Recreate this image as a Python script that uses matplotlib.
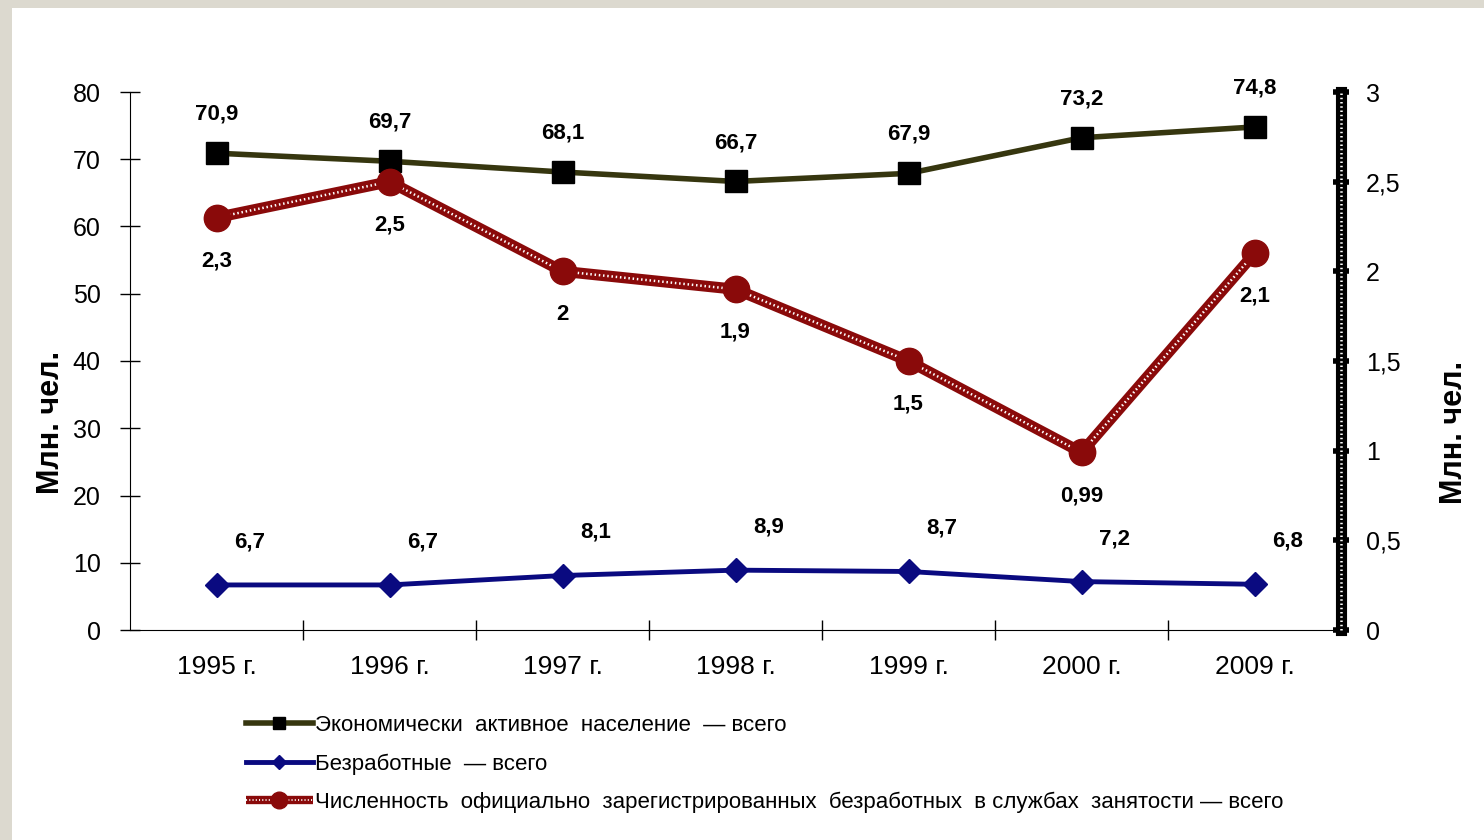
import matplotlib.pyplot as plt
import numpy as np
from matplotlib.lines import Line2D
from matplotlib.patches import Rectangle
from matplotlib.ticker import FuncFormatter, FixedLocator

plt.rcParams['font.family'] = ['Liberation Sans', 'DejaVu Sans']

years = ['1995 г.', '1996 г.', '1997 г.', '1998 г.', '1999 г.', '2000 г.', '2009 г.']
active = [70.9, 69.7, 68.1, 66.7, 67.9, 73.2, 74.8]
unemployed = [6.7, 6.7, 8.1, 8.9, 8.7, 7.2, 6.8]
registered = [2.3, 2.5, 2.0, 1.9, 1.5, 0.99, 2.1]

names = ['Экономически  активное  население  — всего',
         'Безработные  — всего',
         'Численность  официально  зарегистрированных  безработных  в службах  занятости — всего']

c_green = '#36360f'
c_blue = '#0a0a80'
c_red = '#8a0a0a'


def fmt(v):
    return f'{v:g}'.replace('.', ',')


fig = plt.figure(figsize=(14.84, 8.4), dpi=100)
fig.patch.set_facecolor('#dcd9cf')
fig.patches.append(Rectangle((12 / 1484, 0), 1, 1 - 8 / 840, transform=fig.transFigure,
                             facecolor='white', edgecolor='none', zorder=-5))

ax = fig.add_axes([130 / 1484, 1 - 630 / 840, (1341 - 130) / 1484, (630 - 92) / 840])
ax.set_facecolor('none')
ax2 = ax.twinx()

x = np.arange(len(years))

ax.plot(x, active, color=c_green, lw=4, marker='s', ms=16, mfc='black', mec='black', zorder=3)
ax.plot(x, unemployed, color=c_blue, lw=3.5, marker='D', ms=12, mfc=c_blue, mec=c_blue, zorder=3)

ax2.plot(x, registered, color=c_red, lw=8, solid_capstyle='butt', zorder=2)
ax2.plot(x, registered, color='white', lw=1.8, ls=(0, (0.6, 1.1)), zorder=3)
ax2.plot(x, registered, ls='none', marker='o', ms=19, mfc=c_red, mec=c_red, zorder=4)

ax.set_xlim(-0.5, len(years) - 0.5)
ax.set_ylim(0, 80)
ax2.set_ylim(0, 3)

ax.set_yticks(np.arange(0, 81, 10))
ax2.set_yticks(np.arange(0, 3.01, 0.5))
ax2.yaxis.set_major_formatter(FuncFormatter(lambda v, p: fmt(v)))

ax.set_xticks(x)
ax.set_xticklabels(years)
ax.xaxis.set_minor_locator(FixedLocator(np.arange(0.5, len(years) - 1, 1)))
ax.tick_params(axis='x', which='major', length=0, pad=18, labelsize=19)
ax.tick_params(axis='x', which='minor', direction='inout', length=14, width=1)
ax.tick_params(axis='y', direction='inout', length=14, width=1, pad=14, labelsize=18)
ax2.tick_params(axis='y', direction='inout', length=12, width=4, pad=12, labelsize=18)

for s in ['top', 'right']:
    ax.spines[s].set_visible(False)
for s in ['top', 'left', 'bottom']:
    ax2.spines[s].set_visible(False)
ax2.spines['right'].set_linewidth(8)
ax2.plot([1, 1], [0, 1], transform=ax2.transAxes, color='white', lw=1.8,
         ls=(0, (0.6, 1.1)), clip_on=False, zorder=5)

ax.set_ylabel('Млн. чел.', fontsize=22, fontweight='bold')
ax2.set_ylabel('Млн. чел.', fontsize=22, fontweight='bold')
ax.yaxis.set_label_coords(-0.053, 0.385)
ax2.yaxis.set_label_coords(1.081, 0.368)

for xi, v in zip(x, active):
    ax.annotate(fmt(v), (xi, v), xytext=(0, 28), textcoords='offset points',
                ha='center', va='center', fontsize=16, fontweight='bold')
for xi, v in zip(x, unemployed):
    ax.annotate(fmt(v), (xi, v), xytext=(24, 31), textcoords='offset points',
                ha='center', va='center', fontsize=16, fontweight='bold')
for xi, v in zip(x, registered):
    ax2.annotate(fmt(v), (xi, v), xytext=(0, -31), textcoords='offset points',
                 ha='center', va='center', fontsize=16, fontweight='bold')

h1 = Line2D([], [], color=c_green, lw=4, marker='s', ms=9, mfc='black', mec='black')
h2 = Line2D([], [], color=c_blue, lw=3.5, marker='D', ms=7, mfc=c_blue, mec=c_blue)
h3a = Line2D([], [], color=c_red, lw=6, solid_capstyle='butt')
h3b = Line2D([], [], color='white', lw=1.3, ls=(0, (0.6, 1.2)))
h3c = Line2D([], [], ls='none', marker='o', ms=12, mfc=c_red, mec=c_red)
fig.legend([h1, h2, (h3a, h3b, h3c)], names, loc='upper left',
           bbox_to_anchor=(246 / 1484, 1 - 715 / 840), frameon=False,
           fontsize=16, handlelength=3.0, handletextpad=0.1, labelspacing=0.78,
           borderaxespad=0, borderpad=0)

fig.savefig('out.png', dpi=100)
